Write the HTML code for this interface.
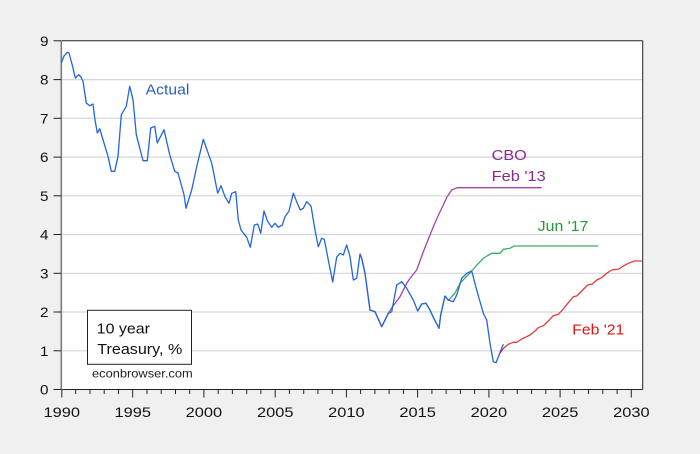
<!DOCTYPE html>
<html><head><meta charset="utf-8"><style>
html,body{margin:0;padding:0;background:#f0f0f0;}
svg{display:block;font-family:"Liberation Sans",Arial,sans-serif;}
</style></head><body>
<svg width="700" height="454" viewBox="0 0 700 454" xmlns="http://www.w3.org/2000/svg">
<rect x="0" y="0" width="700" height="454" fill="#f0f0f0"/>
<rect x="61.5" y="40.8" width="581.2" height="348.7" fill="#ffffff"/>
<g stroke="#d6d6d6" stroke-width="1.2">
<line x1="62" x2="642" y1="350.8" y2="350.8"/>
<line x1="62" x2="642" y1="312.0" y2="312.0"/>
<line x1="62" x2="642" y1="273.3" y2="273.3"/>
<line x1="62" x2="642" y1="234.5" y2="234.5"/>
<line x1="62" x2="642" y1="195.8" y2="195.8"/>
<line x1="62" x2="642" y1="157.1" y2="157.1"/>
<line x1="62" x2="642" y1="118.3" y2="118.3"/>
<line x1="62" x2="642" y1="79.6" y2="79.6"/>
</g>
<line x1="61.5" y1="40.8" x2="642.7" y2="40.8" stroke="#222" stroke-width="1"/>
<line x1="642.7" y1="40.8" x2="642.7" y2="389.5" stroke="#222" stroke-width="1"/>
<line x1="61.5" y1="389.5" x2="642.7" y2="389.5" stroke="#222" stroke-width="1"/>
<line x1="61.3" y1="40.8" x2="61.3" y2="390" stroke="#7a7a7a" stroke-width="1.6"/>
<g stroke="#222" stroke-width="1">
<line x1="53.5" x2="61" y1="389.5" y2="389.5"/>
<line x1="53.5" x2="61" y1="350.8" y2="350.8"/>
<line x1="53.5" x2="61" y1="312.0" y2="312.0"/>
<line x1="53.5" x2="61" y1="273.3" y2="273.3"/>
<line x1="53.5" x2="61" y1="234.5" y2="234.5"/>
<line x1="53.5" x2="61" y1="195.8" y2="195.8"/>
<line x1="53.5" x2="61" y1="157.1" y2="157.1"/>
<line x1="53.5" x2="61" y1="118.3" y2="118.3"/>
<line x1="53.5" x2="61" y1="79.6" y2="79.6"/>
<line x1="53.5" x2="61" y1="40.8" y2="40.8"/>
</g>
<g stroke="#222" stroke-width="1">
<line x1="61.8" x2="61.8" y1="389.5" y2="397.5"/>
<line x1="75.7" x2="75.7" y1="389.5" y2="394"/>
<line x1="90.0" x2="90.0" y1="389.5" y2="394"/>
<line x1="104.2" x2="104.2" y1="389.5" y2="394"/>
<line x1="118.5" x2="118.5" y1="389.5" y2="394"/>
<line x1="132.7" x2="132.7" y1="389.5" y2="397.5"/>
<line x1="147.0" x2="147.0" y1="389.5" y2="394"/>
<line x1="161.2" x2="161.2" y1="389.5" y2="394"/>
<line x1="175.5" x2="175.5" y1="389.5" y2="394"/>
<line x1="189.7" x2="189.7" y1="389.5" y2="394"/>
<line x1="203.9" x2="203.9" y1="389.5" y2="397.5"/>
<line x1="218.2" x2="218.2" y1="389.5" y2="394"/>
<line x1="232.4" x2="232.4" y1="389.5" y2="394"/>
<line x1="246.7" x2="246.7" y1="389.5" y2="394"/>
<line x1="260.9" x2="260.9" y1="389.5" y2="394"/>
<line x1="275.2" x2="275.2" y1="389.5" y2="397.5"/>
<line x1="289.4" x2="289.4" y1="389.5" y2="394"/>
<line x1="303.7" x2="303.7" y1="389.5" y2="394"/>
<line x1="317.9" x2="317.9" y1="389.5" y2="394"/>
<line x1="332.2" x2="332.2" y1="389.5" y2="394"/>
<line x1="346.4" x2="346.4" y1="389.5" y2="397.5"/>
<line x1="360.6" x2="360.6" y1="389.5" y2="394"/>
<line x1="374.9" x2="374.9" y1="389.5" y2="394"/>
<line x1="389.1" x2="389.1" y1="389.5" y2="394"/>
<line x1="403.4" x2="403.4" y1="389.5" y2="394"/>
<line x1="417.6" x2="417.6" y1="389.5" y2="397.5"/>
<line x1="431.9" x2="431.9" y1="389.5" y2="394"/>
<line x1="446.1" x2="446.1" y1="389.5" y2="394"/>
<line x1="460.4" x2="460.4" y1="389.5" y2="394"/>
<line x1="474.6" x2="474.6" y1="389.5" y2="394"/>
<line x1="488.9" x2="488.9" y1="389.5" y2="397.5"/>
<line x1="503.1" x2="503.1" y1="389.5" y2="394"/>
<line x1="517.3" x2="517.3" y1="389.5" y2="394"/>
<line x1="531.6" x2="531.6" y1="389.5" y2="394"/>
<line x1="545.8" x2="545.8" y1="389.5" y2="394"/>
<line x1="560.1" x2="560.1" y1="389.5" y2="397.5"/>
<line x1="574.3" x2="574.3" y1="389.5" y2="394"/>
<line x1="588.6" x2="588.6" y1="389.5" y2="394"/>
<line x1="602.8" x2="602.8" y1="389.5" y2="394"/>
<line x1="617.1" x2="617.1" y1="389.5" y2="394"/>
<line x1="631.3" x2="631.3" y1="389.5" y2="397.5"/>
</g>
<g font-size="14" fill="#111" text-anchor="end">
<text x="48.5" y="394.5" textLength="8.5" lengthAdjust="spacingAndGlyphs">0</text>
<text x="48.5" y="355.8" textLength="8.5" lengthAdjust="spacingAndGlyphs">1</text>
<text x="48.5" y="317.0" textLength="8.5" lengthAdjust="spacingAndGlyphs">2</text>
<text x="48.5" y="278.3" textLength="8.5" lengthAdjust="spacingAndGlyphs">3</text>
<text x="48.5" y="239.5" textLength="8.5" lengthAdjust="spacingAndGlyphs">4</text>
<text x="48.5" y="200.8" textLength="8.5" lengthAdjust="spacingAndGlyphs">5</text>
<text x="48.5" y="162.1" textLength="8.5" lengthAdjust="spacingAndGlyphs">6</text>
<text x="48.5" y="123.3" textLength="8.5" lengthAdjust="spacingAndGlyphs">7</text>
<text x="48.5" y="84.6" textLength="8.5" lengthAdjust="spacingAndGlyphs">8</text>
<text x="48.5" y="45.8" textLength="8.5" lengthAdjust="spacingAndGlyphs">9</text>
</g>
<g font-size="14" fill="#111">
<text x="43.5" y="417" textLength="36.5" lengthAdjust="spacingAndGlyphs">1990</text>
<text x="114.5" y="417" textLength="36.5" lengthAdjust="spacingAndGlyphs">1995</text>
<text x="185.7" y="417" textLength="36.5" lengthAdjust="spacingAndGlyphs">2000</text>
<text x="257.0" y="417" textLength="36.5" lengthAdjust="spacingAndGlyphs">2005</text>
<text x="328.2" y="417" textLength="36.5" lengthAdjust="spacingAndGlyphs">2010</text>
<text x="399.4" y="417" textLength="36.5" lengthAdjust="spacingAndGlyphs">2015</text>
<text x="470.7" y="417" textLength="36.5" lengthAdjust="spacingAndGlyphs">2020</text>
<text x="541.9" y="417" textLength="36.5" lengthAdjust="spacingAndGlyphs">2025</text>
<text x="613.1" y="417" textLength="36.5" lengthAdjust="spacingAndGlyphs">2030</text>
</g>
<polyline fill="none" stroke="#a244aa" stroke-width="1.3" stroke-linejoin="round" points="360,254 361.7,258.3 365,273.3 370,310 375,311.7 381.7,326.7 388.3,313.3 393,306 400,296.7 406.7,283.3 411,277 416.7,270 423.3,251.7 428,240 433.3,226.7 438,216 443.3,205 447,197 451.7,190 457.3,187.7 541.7,187.7"/>
<polyline fill="none" stroke="#3fae64" stroke-width="1.3" stroke-linejoin="round" points="417.7,311 421.7,304 426,303.3 430,310 433.3,317.3 439,328.3 440.7,315 445,296 448.3,300.3 455,293 460,283.3 465,278 471.7,271 477,265 483.3,258.3 487,256 491.7,253.3 500,253.3 503.3,249.3 510,248.3 514,246 598.3,246"/>
<polyline fill="none" stroke="#e23b3b" stroke-width="1.3" stroke-linejoin="round" points="500,353.3 503.3,348.5 508.3,344.3 513.3,342.3 516.7,342.3 521.7,339 526.7,336.7 530,335 535,331 538.3,327.7 543.3,325.7 548.3,321 553.3,315.7 558.3,314.3 563.3,309 568.3,302.7 573.3,296.7 576.7,296 581.7,291 587.7,285 592.3,284 596.7,280 601.7,277.7 606.7,273.3 611.7,270 619,269 623.3,266 628.3,263.3 634.3,261 641.7,261"/>
<polyline fill="none" stroke="#2464e0" stroke-width="1.3" stroke-linejoin="round" points="61.3,63 64,56 67.3,52.3 69,53 72,64 75.3,78 78.7,74.7 81,77 83,81.3 86.3,103 89.7,105.7 93,104 94.7,118 97.3,133 99.7,128.7 103,139.7 108,156.3 111.3,171.3 114.7,171.3 118,156.3 121.3,114.7 126.3,106.3 129.7,86.3 133,99.7 136.3,134.7 143,160.7 147.3,160.7 150.7,128 154.7,126.3 157.3,143 164,129.7 169.7,154.7 174.7,171.3 178,173 184,194.7 186,208.3 191.7,190 196.7,166.7 203.3,139.3 211.7,163.3 217.7,193.3 221,185.7 225,196.7 229,203.3 231.7,193.3 235.7,191.7 238.3,220 241,230 246.7,237.3 250.3,247.3 254.3,225 257.7,224 260.7,233.3 264,211 267.3,220.7 271.7,227.3 275,223.3 278.3,227.3 282.3,225 285,216.7 289,211 293.3,193.3 296.7,201.7 300.3,210 303.3,208.3 306.7,201.7 311,206 315,230 318.3,246.7 321.7,238.3 324.3,239.3 328.3,260 332.7,282 336.7,257 340,253.3 343.3,255 346.7,245 350,256.7 353.3,280 356.7,278.3 360,254 361.7,258.3 365,273.3 370,310 375,311.7 381.7,326.7 388.3,313.3 391.7,311.7 396.7,285 401.7,281.7 406.7,288.3 413.3,300 417.7,311 421.7,304 426,303.3 430,310 433.3,317.3 439,328.3 440.7,315 445,296 448.3,300 453.3,301.7 456.7,295 461.7,278.3 466.7,273.3 471.7,271 476.7,290 483.3,313.3 486.7,320 490,343.3 493.3,361.7 496,362.7 501.7,348.3 503.3,344.3"/>
<g font-size="15">
<text x="145.7" y="94.7" fill="#2a62b8" textLength="43.7" lengthAdjust="spacingAndGlyphs">Actual</text>
<text x="491.7" y="159.8" fill="#8c2a8c" textLength="35" lengthAdjust="spacingAndGlyphs">CBO</text>
<text x="491.7" y="180.8" fill="#8c2a8c" textLength="54" lengthAdjust="spacingAndGlyphs">Feb '13</text>
<text x="537.7" y="231" fill="#259a35" textLength="50.7" lengthAdjust="spacingAndGlyphs">Jun '17</text>
<text x="572.3" y="334.3" fill="#e01414" textLength="52" lengthAdjust="spacingAndGlyphs">Feb '21</text>
</g>
<rect x="87.5" y="310.3" width="104" height="54" fill="#ffffff" stroke="#222" stroke-width="1"/>
<g font-size="15" fill="#111">
<text x="96.7" y="333.3" textLength="53.3" lengthAdjust="spacingAndGlyphs">10 year</text>
<text x="97.3" y="354" textLength="85" lengthAdjust="spacingAndGlyphs">Treasury, %</text>
</g>
<text x="92" y="377.3" font-size="12" fill="#222" textLength="100.7" lengthAdjust="spacingAndGlyphs">econbrowser.com</text>
</svg>
</body></html>
